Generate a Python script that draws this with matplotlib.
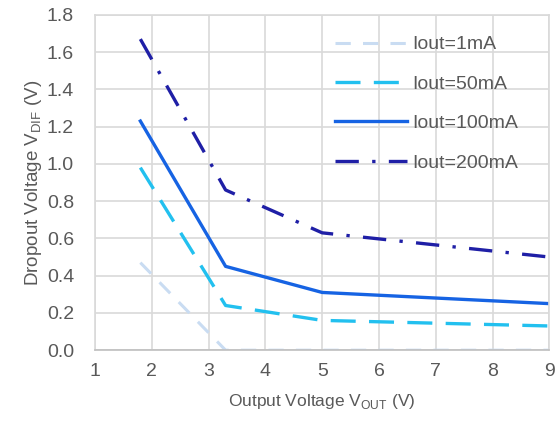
import matplotlib.pyplot as plt

plt.rcParams['font.family'] = ['Liberation Sans', 'DejaVu Sans']
plt.rcParams['mathtext.fontset'] = 'custom'
plt.rcParams['mathtext.rm'] = 'Liberation Sans'

# data
vout = [1.8, 3.3, 5.0, 9.0]
i1 = [0.47, 0.0, 0.0, 0.0]
i50 = [0.98, 0.24, 0.16, 0.13]
i100 = [1.23, 0.45, 0.31, 0.25]
i200 = [1.67, 0.86, 0.63, 0.50]
labels = ['Iout=1mA', 'Iout=50mA', 'Iout=100mA', 'Iout=200mA']

txt = '#595959'
fig = plt.figure(figsize=(5.55, 4.25), dpi=100)
ax = fig.add_subplot(111)
plt.subplots_adjust(left=0.171, right=0.99, top=0.965, bottom=0.176)

ax.plot(vout, i1, color='#c9dcf2', lw=2.2, dashes=(5, 4), label=labels[0])
ax.plot(vout, i50, color='#22c0ef', lw=2.4, dashes=(7.5, 4), label=labels[1])
ax.plot(vout, i100, color='#1663e3', lw=2.4, label=labels[2])
ax.plot(vout, i200, color='#1f1fa6', lw=2.4, dashes=(7, 4, 1, 4), label=labels[3])

ax.set_xlim(1, 9)
ax.set_ylim(0, 1.8)
ax.set_xticks(range(1, 10))
ax.set_yticks([0.0, 0.2, 0.4, 0.6, 0.8, 1.0, 1.2, 1.4, 1.6, 1.8])
ax.set_yticklabels(['%.1f' % v for v in ax.get_yticks()])
ax.grid(True, color='#d9d9d9', lw=1.2)
ax.set_axisbelow(True)
for s in ['top', 'right', 'left']:
    ax.spines[s].set_color('#d9d9d9')
    ax.spines[s].set_linewidth(1.2)
ax.spines['bottom'].set_color('#bfbfbf')
ax.spines['bottom'].set_linewidth(1.2)
ax.tick_params(length=0, labelsize=14, colors=txt)
ax.tick_params(axis='x', pad=9)
ax.tick_params(axis='y', pad=15)

ax.set_xlabel(r'Output Voltage V$_{\mathregular{OUT}}$ (V)', fontsize=12.5, color=txt, labelpad=9)
ax.set_ylabel(r'Dropout Voltage V$_{\mathregular{DIF}}$ (V)', fontsize=13.5, color=txt, labelpad=2)

leg = ax.legend(loc='upper right', frameon=False, fontsize=14, handlelength=3.7,
                labelspacing=1.12, handletextpad=0.3, bbox_to_anchor=(0.97, 0.99))
for t in leg.get_texts():
    t.set_color(txt)

plt.savefig('out.png', dpi=100)
